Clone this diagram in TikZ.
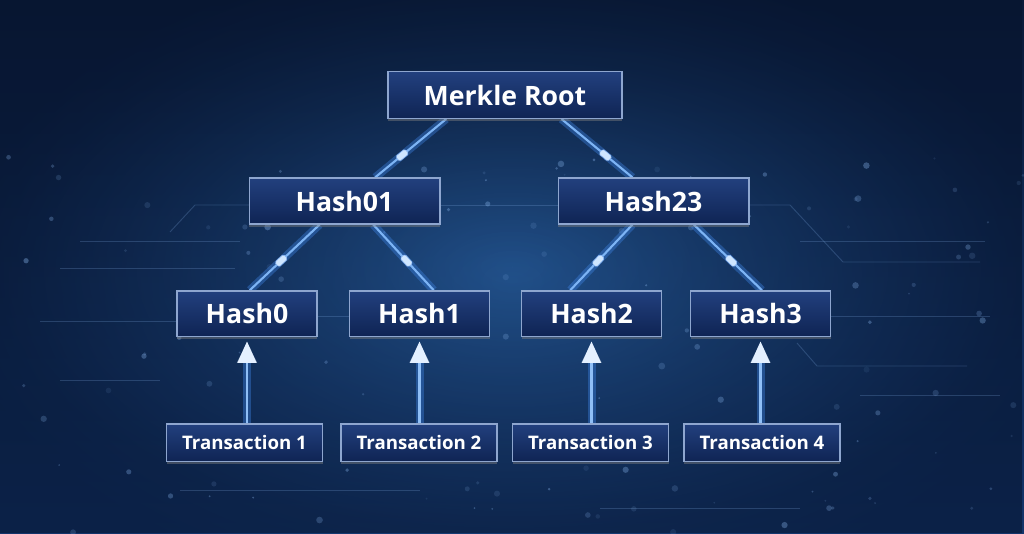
\documentclass[tikz,border=0pt]{standalone}
\usepackage{fontspec}
\setmainfont{Open Sans}
\usetikzlibrary{arrows.meta,calc,fadings,shadows}
\definecolor{bgtop}{HTML}{0A1A38}
\definecolor{bgbot}{HTML}{13346A}
\definecolor{bgglow}{HTML}{2A63A3}
\definecolor{bgedge}{HTML}{06132C}
\definecolor{boxtop}{HTML}{22407E}
\definecolor{boxbot}{HTML}{0F2454}
\definecolor{boxline}{HTML}{8EA6CF}
\definecolor{lineblue}{HTML}{7DB4F5}
\definecolor{glowblue}{HTML}{3F86E8}
\definecolor{beadcol}{HTML}{CFE6FF}
\definecolor{dotcol}{HTML}{8CB8F0}
\definecolor{arrowhead}{HTML}{E4F0FF}
\tikzfading[name=glowfade, inner color=transparent!0, outer color=transparent!100]
\tikzfading[name=vignette, inner color=transparent!100, outer color=transparent!0]
\pgfdeclarelayer{back}
\pgfdeclarelayer{conn}
\pgfsetlayers{back,conn,main}
\tikzset{
  box/.style={draw=boxline, line width=1pt, top color=boxtop, bottom color=boxbot,
    text=white, font=\bfseries\fontsize{20}{24}\selectfont, inner sep=0pt,
    drop shadow={opacity=0.45, shadow xshift=0pt, shadow yshift=-2pt}},
  rootbox/.style={box, minimum width=175.5pt, minimum height=35pt},
  midbox/.style={box, minimum width=143pt, minimum height=34.5pt},
  leafbox/.style={box, minimum width=105pt, minimum height=34pt},
  txbox/.style={box, minimum width=117pt, minimum height=28pt,
    font=\bfseries\fontsize{14}{17}\selectfont},
  link/.style={line width=1.6pt, draw=lineblue,
    preaction={draw=glowblue, line width=6pt, opacity=0.38}},
  bead/.style={fill=beadcol, draw=glowblue!60!white, line width=0.4pt, rounded corners=1.2pt,
    minimum width=9pt, minimum height=4.8pt, inner sep=0pt},
  uparrow/.style={line width=1.7pt, draw=lineblue!85!white,
    preaction={draw=glowblue, line width=6pt, opacity=0.38},
    -{Triangle[width=14pt,length=16pt,fill=arrowhead,color=arrowhead]}},
  circuit/.style={draw=dotcol, line width=0.7pt, opacity=0.22}
}
\begin{document}
\begin{tikzpicture}[x=0.75pt,y=-0.75pt]
\useasboundingbox (0,0) rectangle (1024,533);
\begin{pgfonlayer}{back}
  \fill[top color=bgtop, bottom color=bgbot] (0,0) rectangle (1024,533);
  \fill[bgglow, opacity=0.7, path fading=glowfade] (512,280) ellipse [x radius=560, y radius=330];
  \fill[bgedge, opacity=0.55, path fading=vignette] (0,0) rectangle (1024,533);
  % faint circuit lines
  \draw[circuit] (170,232) -- (195,205) -- (249,205);
  \draw[circuit] (440,205) -- (558,205);
  \draw[circuit] (749,205) -- (790,205) -- (843,262) -- (980,262);
  \draw[circuit] (80,241) -- (240,241);
  \draw[circuit] (60,268) -- (235,268);
  \draw[circuit] (40,321) -- (177,321);
  \draw[circuit] (317,316) -- (350,316);
  \draw[circuit] (829,316) -- (990,316);
  \draw[circuit] (797,343) -- (817,366) -- (967,366);
  \draw[circuit] (800,241) -- (985,241);
  \draw[circuit] (60,380) -- (160,380);
  \draw[circuit] (860,395) -- (1000,395);
  \draw[circuit] (180,490) -- (420,490);
  \draw[circuit] (600,508) -- (800,508);
  % faint dots
  \pgfmathsetseed{17}
  \foreach \i in {1,...,140}{
    \pgfmathsetmacro\dx{rnd*1024}
    \pgfmathsetmacro\dy{150+rnd*383}
    \pgfmathsetmacro\op{0.08+rnd*0.3}
    \pgfmathsetmacro\rr{0.8+rnd*2.6}
    \fill[dotcol, opacity=\op] (\dx,\dy) circle[radius=\rr];
  }
\end{pgfonlayer}

% nodes
\node[rootbox] (root) at (505,95) {Merkle Root};
\node[midbox] (h01) at (344.5,201) {Hash01};
\node[midbox] (h23) at (653.5,201) {Hash23};
\node[leafbox] (h0) at (247,313.5) {Hash0};
\node[leafbox] (h1) at (419.5,313.5) {Hash1};
\node[leafbox] (h2) at (591.5,313.5) {Hash2};
\node[leafbox] (h3) at (760.5,313.5) {Hash3};
\node[txbox] (t1) at (244.5,442.5) {Transaction 1};
\node[txbox] (t2) at (419,442.5) {Transaction 2};
\node[txbox] (t3) at (590.5,442.5) {Transaction 3};
\node[txbox] (t4) at (762,442.5) {Transaction 4};

\begin{pgfonlayer}{conn}
  \draw[link] ($(root.south west)!0.25!(root.south east)$) -- ($(h01.north west)!0.66!(h01.north east)$)
     node[bead, pos=0.62, sloped] {};
  \draw[link] ($(root.south west)!0.74!(root.south east)$) -- ($(h23.north west)!0.39!(h23.north east)$)
     node[bead, pos=0.62, sloped] {};
  \draw[link] ($(h01.south west)!0.37!(h01.south east)$) -- ($(h0.north west)!0.52!(h0.north east)$)
     node[bead, pos=0.55, sloped] {};
  \draw[link] ($(h01.south west)!0.65!(h01.south east)$) -- ($(h1.north west)!0.60!(h1.north east)$)
     node[bead, pos=0.55, sloped] {};
  \draw[link] ($(h23.south west)!0.39!(h23.south east)$) -- ($(h2.north west)!0.35!(h2.north east)$)
     node[bead, pos=0.55, sloped] {};
  \draw[link] ($(h23.south west)!0.71!(h23.south east)$) -- ($(h3.north west)!0.51!(h3.north east)$)
     node[bead, pos=0.55, sloped] {};
  \draw[uparrow, shorten >=3.5pt] (h0.south |- t1.north) -- (h0.south);
  \draw[uparrow, shorten >=3.5pt] (h1.south |- t2.north) -- (h1.south);
  \draw[uparrow, shorten >=3.5pt] (h2.south |- t3.north) -- (h2.south);
  \draw[uparrow, shorten >=3.5pt] (h3.south |- t4.north) -- (h3.south);
\end{pgfonlayer}
\end{tikzpicture}
\end{document}
